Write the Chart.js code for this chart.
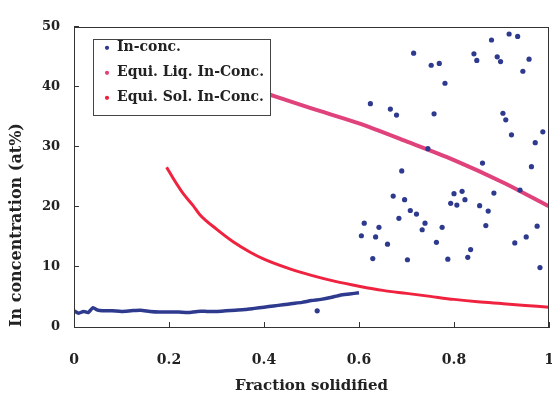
<!DOCTYPE html>
<html>
<head>
<meta charset="utf-8">
<script src="https://cdn.jsdelivr.net/npm/chart.js@4.4.0/dist/chart.umd.min.js"></script>
<style>
  html, body { margin: 0; padding: 0; background: #fff; overflow: hidden; }
  #wrap { width: 560px; height: 399px; }
</style>
</head>
<body>
<div id="wrap"><canvas id="chart" width="560" height="399"></canvas></div>
<script>
// In-conc. measured profile (the dense band along the bottom)
const curveX = [0, 0.01, 0.02, 0.03, 0.04, 0.05, 0.06, 0.08, 0.10, 0.12, 0.14, 0.16, 0.18, 0.20, 0.22, 0.24, 0.26, 0.28, 0.30,
                0.32, 0.34, 0.36, 0.38, 0.40, 0.42, 0.44, 0.46, 0.48, 0.50, 0.52, 0.54, 0.56, 0.58, 0.60];
const curveY = [2.7, 2.3, 2.6, 2.4, 3.2, 2.8, 2.7, 2.7, 2.6, 2.7, 2.8, 2.6, 2.5, 2.5, 2.5, 2.4, 2.6, 2.6, 2.6,
                2.7, 2.8, 2.9, 3.1, 3.3, 3.5, 3.7, 3.9, 4.1, 4.4, 4.6, 4.9, 5.3, 5.5, 5.7];

// In-conc. scattered points
const scatterX = [0.512, 0.879, 0.916, 0.934, 0.715, 0.842, 0.848, 0.891, 0.898, 0.958, 0.945, 0.752, 0.769, 0.781,
                  0.624, 0.666, 0.679, 0.758, 0.903, 0.909, 0.921, 0.987, 0.971, 0.745, 0.860, 0.963, 0.690, 0.939,
                  0.817, 0.800, 0.884, 0.672, 0.696, 0.793, 0.806, 0.823, 0.854, 0.708, 0.721, 0.872, 0.684, 0.739,
                  0.611, 0.642, 0.733, 0.775, 0.867, 0.975, 0.605, 0.635, 0.952, 0.660, 0.763, 0.928, 0.835, 0.629,
                  0.702, 0.787, 0.829, 0.981];
const scatterY = [2.7, 47.8, 48.8, 48.4, 45.6, 45.5, 44.4, 45.0, 44.2, 44.6, 42.6, 43.6, 43.9, 40.6,
                  37.2, 36.3, 35.3, 35.5, 35.6, 34.5, 32.0, 32.5, 30.7, 29.7, 27.3, 26.7, 26.0, 22.8,
                  22.6, 22.2, 22.3, 21.8, 21.2, 20.6, 20.3, 21.2, 20.2, 19.4, 18.8, 19.3, 18.1, 17.3,
                  17.3, 16.6, 16.2, 16.6, 16.9, 16.8, 15.2, 15.0, 15.0, 13.8, 14.1, 14.0, 12.9, 11.4,
                  11.2, 11.3, 11.6, 9.9];

// Equilibrium liquid concentration
const liqX = [0.40, 0.42, 0.50, 0.60, 0.70, 0.80, 0.90, 1.00];
const liqY = [39.0, 38.5, 36.4, 33.9, 30.9, 27.8, 24.2, 20.1];

// Equilibrium solid concentration
const solX = [0.195, 0.21, 0.23, 0.25, 0.265, 0.30, 0.335, 0.37, 0.40, 0.45, 0.50, 0.55, 0.60, 0.65, 0.70,
              0.75, 0.80, 0.85, 0.90, 0.95, 1.00];
const solY = [26.6, 24.6, 22.2, 20.3, 18.7, 16.3, 14.2, 12.5, 11.3, 9.8, 8.6, 7.6, 6.8, 6.1, 5.6,
              5.1, 4.6, 4.2, 3.9, 3.6, 3.3];

const xTicks = [0, 0.2, 0.4, 0.6, 0.8, 1];
const yTicks = [0, 10, 20, 30, 40, 50];
const labels = ['In-conc.', 'Equi. Liq. In-Conc.', 'Equi. Sol. In-Conc.'];

const blue = '#2e3a8e';
const pink = '#e0437c';
const red = '#ef233f';
const serif = "'DejaVu Serif', serif";

function pts(xs, ys) {
    return xs.map((x, i) => ({ x: x, y: ys[i] }));
}

// frame around plot + boxed legend drawn over the lines
const framePlugin = {
    id: 'frame',
    afterLayout(chart) {
        const lg = chart.legend;
        const a = chart.chartArea;
        lg.left = a.left + 19;
        lg.top = a.top + 3;
        lg.right = a.right;
        lg.bottom = a.bottom;
    },
    afterDatasetsDraw(chart) {
        const ctx = chart.ctx;
        const a = chart.chartArea;
        const lg = chart.legend;
        ctx.save();
        ctx.strokeStyle = '#333';
        ctx.lineWidth = 1;
        ctx.strokeRect(Math.round(a.left) + 0.5, Math.round(a.top) + 0.5,
                       Math.round(a.right - a.left) - 1, Math.round(a.bottom - a.top));

        // legend box
        ctx.font = 'bold 14px ' + serif;
        let maxW = 0;
        lg.legendItems.forEach(it => { maxW = Math.max(maxW, ctx.measureText(it.text).width); });
        const bx = Math.round(lg.left) + 0.5;
        const by = Math.round(a.top + 12) + 0.5;
        const bw = Math.round(11 + 6 + 7 + maxW + 6);
        const bh = 76;
        ctx.fillStyle = '#fff';
        ctx.fillRect(bx, by, bw, bh);
        ctx.strokeStyle = '#444';
        ctx.strokeRect(bx, by, bw, bh);
        ctx.restore();
        lg.draw();
    }
};

new Chart(document.getElementById('chart'), {
    type: 'scatter',
    data: {
        datasets: [
            {
                label: labels[0],
                data: pts(scatterX, scatterY),
                backgroundColor: blue,
                borderColor: blue,
                pointRadius: 2.6,
                pointBorderWidth: 0
            },
            {
                label: labels[1],
                data: pts(liqX, liqY),
                showLine: true,
                borderColor: pink,
                backgroundColor: pink,
                borderWidth: 4,
                pointRadius: 0,
                tension: 0.3
            },
            {
                label: labels[2],
                data: pts(solX, solY),
                showLine: true,
                borderColor: red,
                backgroundColor: red,
                borderWidth: 3,
                pointRadius: 0,
                cubicInterpolationMode: 'monotone'
            },
            {
                label: 'curve',
                data: pts(curveX, curveY),
                showLine: true,
                borderColor: blue,
                backgroundColor: blue,
                borderWidth: 3.5,
                pointRadius: 0,
                tension: 0.2
            }
        ]
    },
    options: {
        responsive: false,
        animation: false,
        layout: { padding: { top: 19, right: 11, left: 0, bottom: 0 } },
        plugins: {
            tooltip: { enabled: false },
            legend: {
                position: 'chartArea',
                align: 'start',
                labels: {
                    usePointStyle: true,
                    pointStyle: 'circle',
                    boxWidth: 6,
                    boxHeight: 3,
                    padding: 11,
                    color: '#222',
                    font: { family: serif, size: 14, weight: 'bold' },
                    generateLabels: chart => Chart.defaults.plugins.legend.labels.generateLabels(chart)
                        .map(l => Object.assign(l, { lineWidth: 0 })),
                    filter: item => item.datasetIndex !== 3
                }
            }
        },
        scales: {
            x: {
                type: 'linear',
                min: 0,
                max: 1,
                afterBuildTicks: s => { s.ticks = xTicks.map(v => ({ value: v })); },
                afterFit: s => { s.height = 72; },
                grid: { drawOnChartArea: false, tickLength: -5, color: '#333' },
                border: { color: '#333' },
                ticks: {
                    padding: 3,
                    color: '#222',
                    font: { family: serif, size: 14, weight: 'bold', lineHeight: '70px' },
                    callback: v => String(v)
                },
                title: {
                    display: true,
                    text: 'Fraction solidified',
                    color: '#222',
                    font: { family: serif, size: 15, weight: 'bold' },
                    padding: { top: 0, bottom: 4 }
                }
            },
            y: {
                min: 0,
                max: 50,
                afterBuildTicks: s => { s.ticks = yTicks.map(v => ({ value: v })); },
                afterFit: s => { s.width = 74; },
                grid: { drawOnChartArea: false, tickLength: -5, color: '#333' },
                border: { color: '#333' },
                ticks: { padding: 19, color: '#222', font: { family: serif, size: 13, weight: 'bold' } },
                title: {
                    display: true,
                    text: 'In concentration (at%)',
                    align: 'start',
                    color: '#222',
                    font: { family: serif, size: 16, weight: 'bold' },
                    padding: { top: 7, bottom: 0 }
                }
            }
        }
    },
    plugins: [framePlugin]
});
</script>
</body>
</html>
